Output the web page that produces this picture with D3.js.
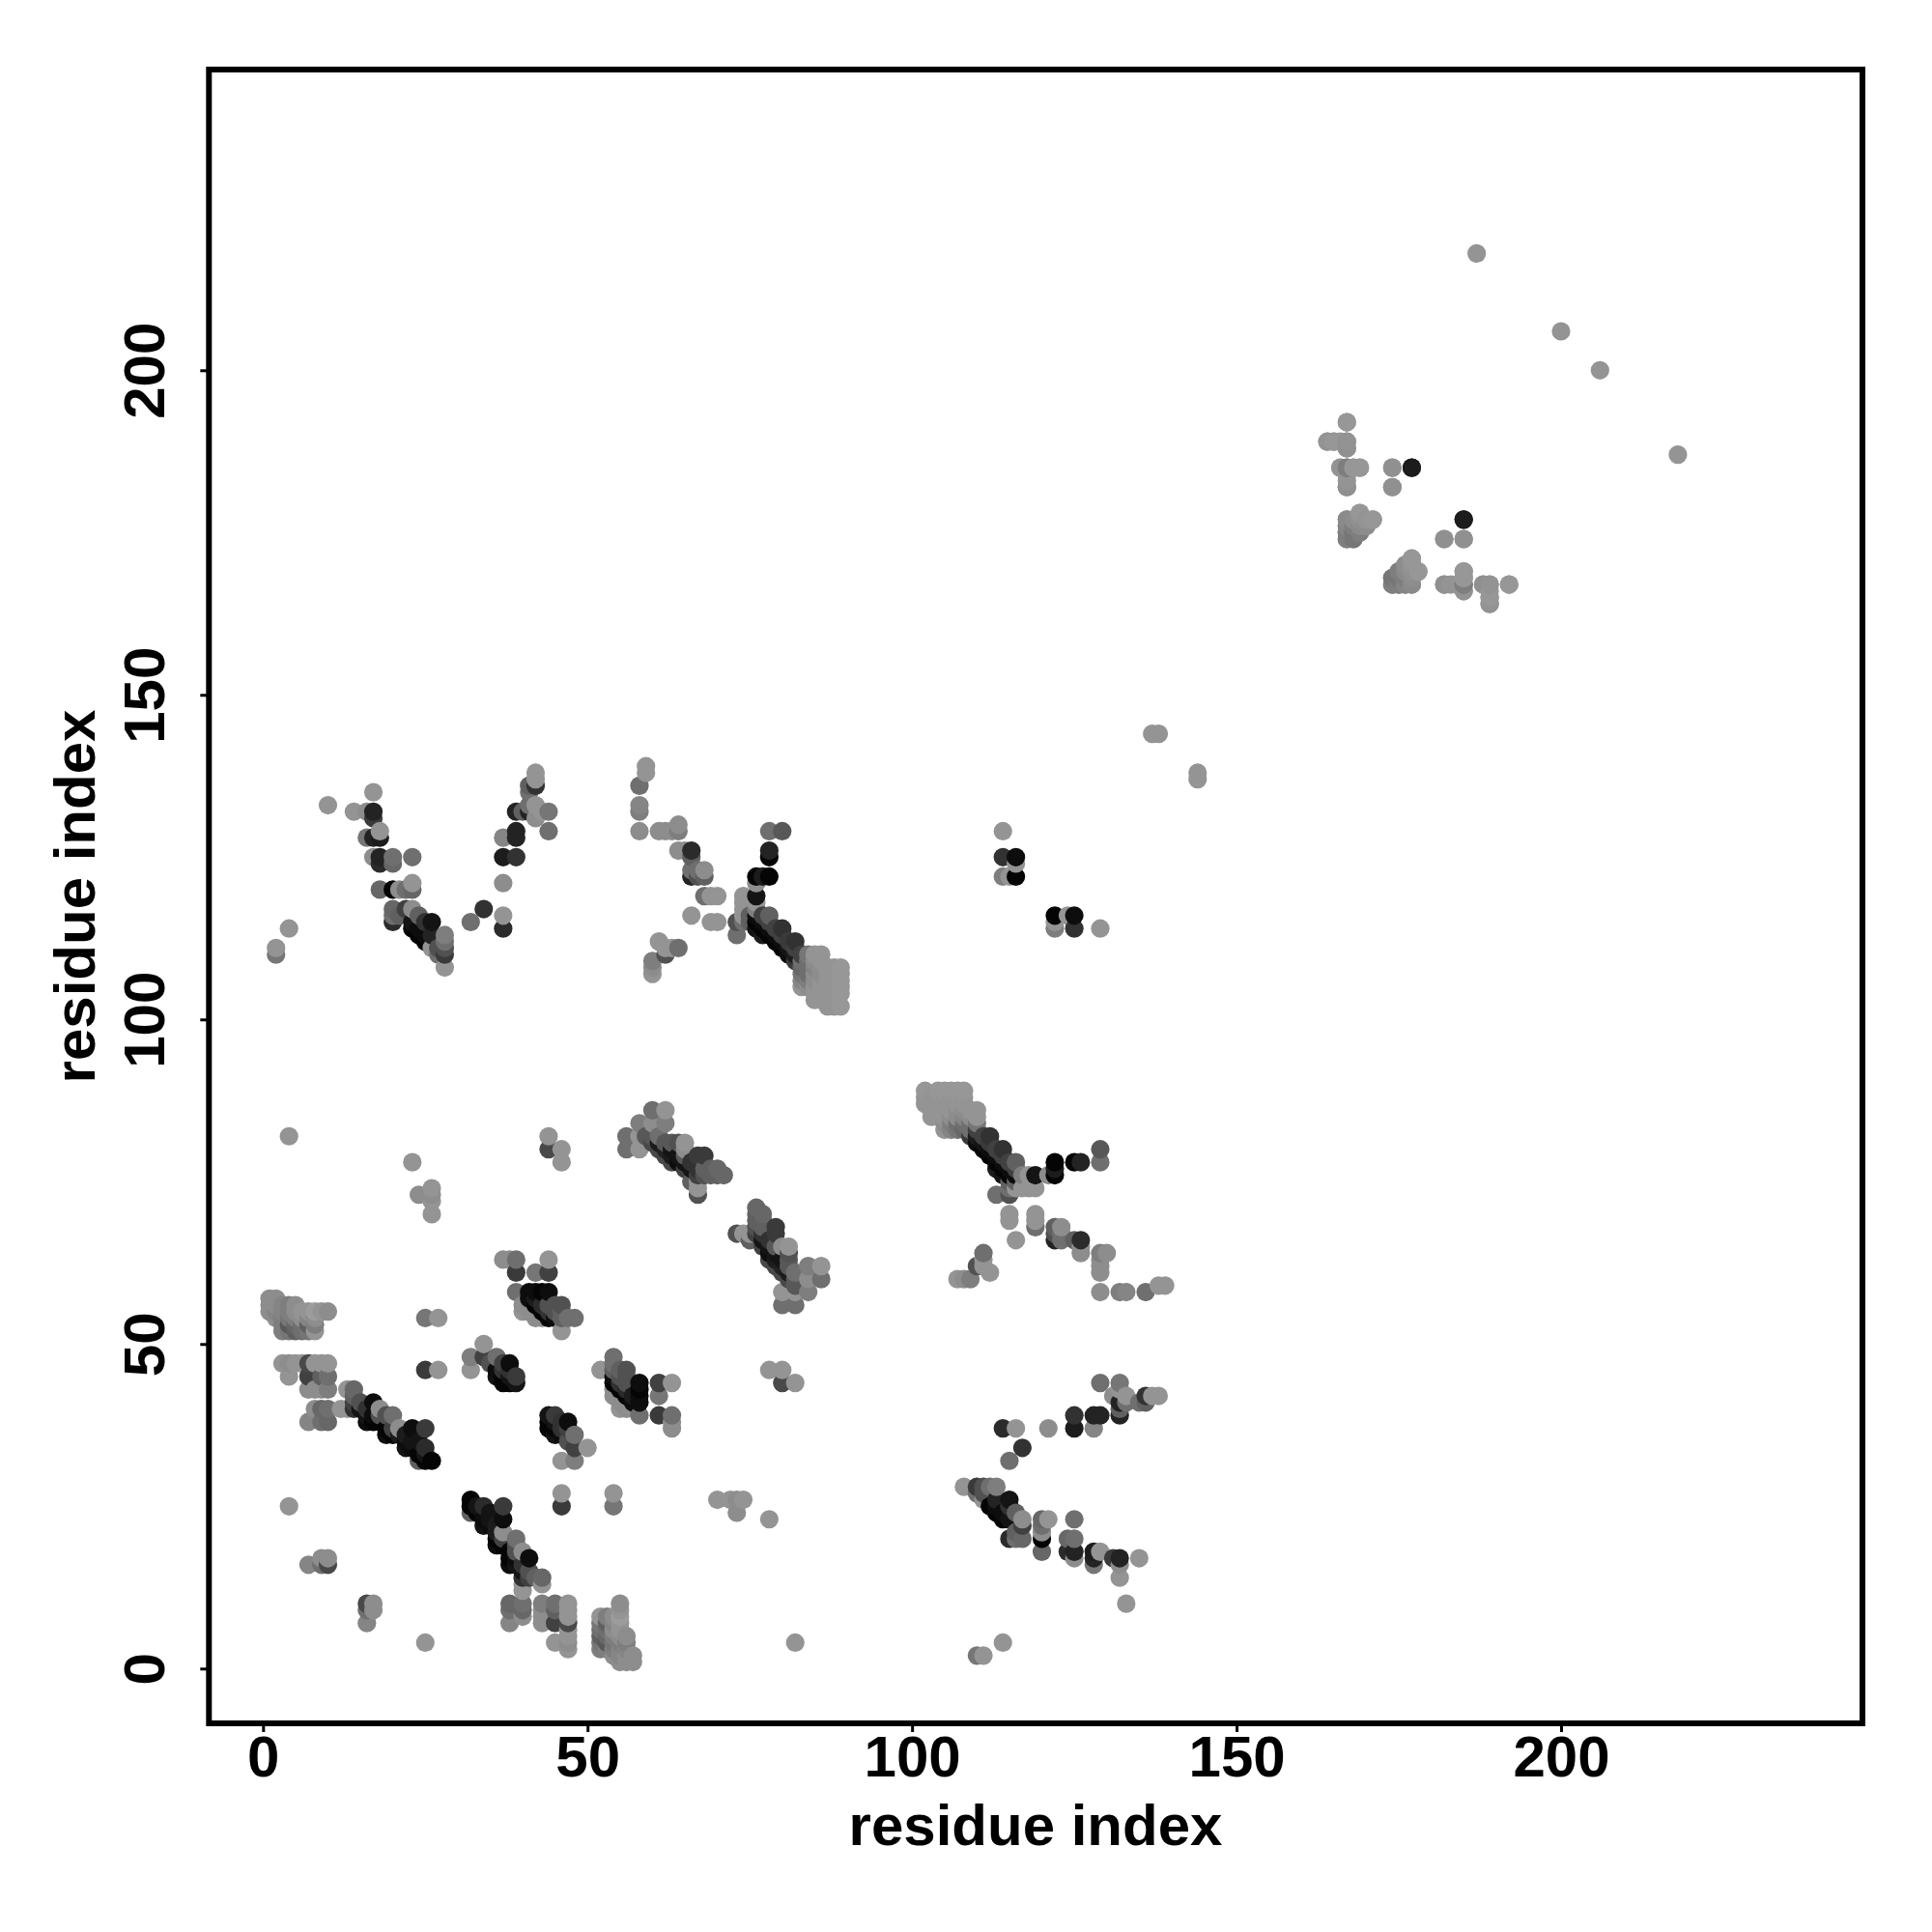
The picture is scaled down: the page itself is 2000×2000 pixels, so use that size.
<!DOCTYPE html>
<html><head><meta charset="utf-8">
<script src="https://cdn.jsdelivr.net/npm/d3@7/dist/d3.min.js"></script>
<style>html,body{margin:0;background:#fff}svg{display:block}</style></head>
<body><div id="chart"></div>
<script>
// Contacts as [residue i, residue j, strength]; the map is symmetric, each is shown at (i,j) and (j,i).
const blockA = [[1,57,.1],[2,57,.1],[1,56,.1],[2,56,.1],[3,56,.15],[4,56,.2],[5,56,.1],
[1,55,.1],[2,55,.15],[3,55,.15],[4,55,.2],[5,55,.1],[6,55,.05],[7,55,.05],[8,55,0],[9,55,.05],[10,55,.1],
[2,54,.1],[3,54,.2],[4,54,.25],[5,54,.2],[6,54,.1],[7,54,.15],[8,54,.1],
[3,53,.2],[4,53,.45],[5,53,.35],[6,53,.3],[7,53,.4],[8,53,.2],
[3,52,.2],[4,52,.25],[5,52,.4],[6,52,.3],[7,52,.25],[8,52,.05]];
const blockB = [[3,47,.05],[4,47,.1],[5,47,.05],[6,47,.05],[7,47,.55],[8,47,.05],[9,47,.05],[10,47,.05],
[4,45,.05],[7,45,.6],[9,45,.4],[10,45,.3],[7,43,.1],[8,43,.1],[9,43,.1],[10,43,.2],
[8,40,.1],[9,40,.35],[10,40,.3],[7,38,.15],[9,38,.3],[10,38,.35]];
const lineC = [[13,43,.05],[14,43,.35],[14,42,.4],[14,41,.6],[14,40,.7],[13,40,.05],[12,40,.05],[15,41,.5],[15,40,.9],[16,40,.7],[16,39,.9],[17,41,.95],[16,38,.95],[17,39,.95],[18,40,.1],[17,38,1],[18,38,1],[18,39,.5],[19,39,.5],[20,39,.3],[19,37,1],[19,36,.95],[20,37,.6],[20,36,1],[21,36,.85],[21,37,.1],[22,36,.85],[22,35,.95],[23,37,.95],[22,34,.9],[23,35,.9],[23,34,.95],[24,35,.9],[24,33,1],[25,37,.65],[25,34,.75],[25,33,.9],[24,32,.4],[25,32,1],[26,32,1]];
const clusterD = [[37,63,.1],[38,63,.1],[39,63,.3],[44,63,.05],[39,61,.65],[42,61,.25],[44,61,.6],[39,58,.3],[41,58,.95],[42,58,.95],[43,58,1],[44,58,.95],[40,56,.1],[40,55,.05],[41,57,.95],[41,55,.1],[42,57,.85],[42,56,1],[43,56,.75],[43,55,1],[43,54,.1],[44,56,.5],[44,55,.7],[44,54,1],[45,56,.5],[45,55,.5],[45,54,.95],[46,56,.5],[46,55,.4],[46,54,.4],[47,54,.3],[48,54,.3],[46,52,.05],[42,54,.1]];
const clusterE = [[34,50,.05],[32,48,.2],[34,48,.6],[36,48,.3],[35,47,.5],[37,47,.6],[38,47,.95],[32,46,.05],[36,46,.95],[37,46,.7],[38,46,.7],[36,45,.9],[37,45,1],[38,45,.9],[39,45,.65],[37,44,1],[38,44,1],[39,44,.9]];
const scattered = [[25,46,.65],[27,46,.05],[25,54,.25],[27,54,.05],[4,25,.05],[7,16,.15],[9,17,.1],[10,17,.1],[10,16,.55],[9,16,.3],
[26,70,.05],[26,72,.05],[24,73,.1],[26,73,.1],[26,74,.05],[23,78,.05],[4,82,.05],[44,82,.05],[44,80,.55],[46,80,.05],[46,78,.05],
[2,110,.25],[2,111,.05],[4,114,.05],[10,133,.05],[137,144,.05],[138,144,.05],[187,218,.05],[200,206,.05]];
const clusterF = [[56,82,.3],[56,80,.3],[58,84,.2],[58,82,.05],[58,80,.05],[60,86,.3],[62,86,.05],[60,84,.1],[62,84,.2],[59,82,.45],[60,82,.45],[61,82,.3],[60,81,.55],[61,81,.85],[61,80,.55],[62,81,.45],[62,80,.8],[63,81,.45],[64,81,.5],[65,81,.05],[65,80,.1],[62,79,.55],[63,80,.9],[63,79,.85],[63,78,.55],[64,79,.9],[65,79,.45],[64,78,.95],[65,78,.9],[66,78,.7],[67,79,.65],[68,79,.65],[65,77,.6],[66,77,.9],[67,77,.7],[68,77,.4],[69,77,.4],[70,77,.35],[71,76,.35],[70,76,.4],[69,76,.4],[67,76,.6],[68,76,.5],[66,75,.4],[67,75,.05],[67,74,.05],[67,73,.5]];
const clusterG = [[59,139,.05],[59,138,.05],[58,136,.3],[58,133,.15],[58,132,.2],[58,129,.1],[61,129,.1],[62,129,.1],[63,129,.1],[64,130,.1],[64,129,.2],[64,126,.1],[65,126,.1],[66,126,.75],[66,125,.4],[66,123,.3],[66,122,.8],[67,123,.3],[68,123,.1],[68,122,.4],[67,122,.5],[68,119,.3],[69,119,.05],[70,119,.05],[66,116,.05],[69,115,.05],[70,115,.05],
[73,115,.5],[73,113,.3],[74,119,.05],[74,118,.05],[74,117,.05],[74,116,.05],[74,115,.3],
[60,109,.2],[60,108,.1],[60,107,.05],[61,112,.05],[62,111,.05],[62,110,.5],[63,111,.05],[64,111,.3],
[76,122,1],[76,121,.1],[77,122,.85],[78,122,1],[76,119,.9],[76,118,.05],[76,117,.2],[78,126,.8],[78,125,1],[78,129,.3],[80,129,.45]];
const lineH = [[75,116,.4],[75,115,.4],[76,116,.95],[76,115,1],[76,114,.9],[77,116,.6],[78,116,.4],[77,115,.95],[77,114,1],[78,115,.6],[78,114,.95],[78,113,1],[77,113,.85],[79,114,.6],[79,113,.95],[79,112,1],[80,114,.7],[80,113,.6],[80,112,.95],[80,111,1],[81,112,.65],[81,111,.9],[81,110,.95],[82,112,.7],[82,111,.6],[82,110,.85],[82,109,.65],[83,110,.6]];
const blockI = [[83,109,.3],[83,108,.35],[83,107,.25],[83,106,.15],[83,105,.05],[84,110,.25],[84,109,.3],[84,108,.3],[84,107,.3],[84,106,.2],[84,105,.1],
[85,110,.05],[85,109,.1],[85,108,.15],[85,107,.1],[85,106,.1],[85,105,.05],[85,104,.05],[85,103,.05],
[86,110,.05],[86,109,.05],[86,108,.1],[86,107,.1],[86,106,.05],[86,105,.05],[86,104,.05],[86,103,.05],
[87,108,.05],[87,107,.05],[87,106,.05],[87,105,.05],[87,104,.05],[87,103,.05],[87,102,.05],
[88,108,.05],[88,107,.05],[88,106,.05],[88,105,.05],[88,104,.05],[88,103,.05],[88,102,.05],
[89,108,.03],[89,107,.03],[89,106,.03],[89,105,.03],[89,104,.03],[89,102,.03]];
const clusterJ = [[14,132,.05],[16,132,.1],[17,135,.05],[17,132,.8],[17,131,.65],[18,129,.05],[16,128,.25],[17,128,.8],[18,128,.85],[17,125,.1],[18,125,.8],[18,124,.75],[20,125,.3],[20,124,.35],[23,125,.3],[18,120,.35],[20,120,1],[21,120,.1],[22,120,.3],[23,121,.05],[23,120,.35],[20,117,.35],[20,116,.3],[20,115,.75],[21,116,.4],[22,117,.6],[23,117,.1],[24,116,.4],[23,115,.9],[23,114,1],[24,114,.95],[25,115,.7],[24,113,1],[25,113,.95],[25,112,1],[26,115,.9],[26,113,.8],[26,111,.05],[27,110,.3],[27,111,.5],[28,113,.2],[28,112,.3],[28,111,.5],[28,110,.65],[28,108,.05],
[32,115,.3],[34,117,.7],[37,116,.05],[37,114,.75],[37,121,.1],[37,125,.85],[39,125,.7],[37,128,.15],[39,129,.8],[39,128,.8],[39,132,.8],[40,132,.4],[41,132,.8],[42,133,.05],[41,133,.3],[42,131,.1],[41,136,.4],[42,136,.7],[41,135,.3],[42,137,.05],[42,138,.05],[43,132,.05],[44,132,.25],[44,129,.3]];
const clusterK = [[114,129,.05],[114,125,.7],[114,122,.2],[115,122,.05],[116,125,.95],[116,124,.05],[116,122,1]];
const clusterL = [[167,192,.05],[164,189,.03],[165,189,.03],[166,189,.03],[167,189,.08],[167,188,.08],[166,185,.03],[167,185,.25],[168,185,.05],[169,185,.03],[167,183,.05],[167,182,.08],[174,185,.1],[177,185,.85],[174,182,.08],[185,177,.85],[182,174,.08],[185,174,.08],
[167,174,.2],[167,175,.15],[167,176,.08],[167,177,.1],[168,174,.2],[168,175,.2],[168,176,.12],[169,175,.2],[169,176,.15],[169,177,.08],[169,178,.03],[170,176,.12],[170,177,.05],[171,177,.03],
[174,167,.2],[174,168,.25],[175,167,.2],[175,168,.25],[175,169,.2],[176,167,.15],[176,168,.2],[176,169,.12],[176,170,.1],[177,167,.12],[177,168,.1],[177,169,.08],[177,170,.05],[177,171,.03],[178,169,.03],
[182,167,.08],[184,167,.05],[185,169,.03],[185,168,.03],[185,167,.2],[185,166,.06],[188,167,.08],[189,167,.06],[189,165,.03],[189,164,.06],[192,167,.03]];

const tickValues = [0,50,100,150,200];
const xLabel = "residue index", yLabel = "residue index";

const groups = [blockA,blockB,lineC,clusterD,clusterE,scattered,clusterF,clusterG,lineH,blockI,clusterJ,clusterK,clusterL];
const points = groups.flat().flatMap(([i,j,s]) => [[i,j,s],[j,i,s]])
  .sort((a,b) => d3.ascending(a[0],b[0]) || d3.ascending(a[1],b[1]));

const W = 2000, H = 2000;
const L = 216.3, R = 1928, T = 72, B = 1784;
const x = d3.scaleLinear().domain([0,200]).range([272.3,1616]);
const y = d3.scaleLinear().domain([0,200]).range([1727.3,383.3]);
const grey = d3.scaleLinear().domain([0,1]).range(["#9c9c9c","#050505"]);
const font = "'Liberation Sans',Arial,sans-serif";

const svg = d3.select("#chart").append("svg").attr("width",W).attr("height",H).attr("viewBox",`0 0 ${W} ${H}`);
svg.append("rect").attr("width",W).attr("height",H).attr("fill","#fff");

svg.append("g").selectAll("circle").data(points).join("circle")
  .attr("cx",d=>x(d[0])).attr("cy",d=>y(d[1])).attr("r",9.6).attr("fill",d=>grey(d[2]));

const xAxis = svg.append("g").attr("transform",`translate(0,${B})`)
  .call(d3.axisBottom(x).tickValues(tickValues).tickSize(9).tickSizeOuter(0).tickFormat(d3.format("d")));
const yAxis = svg.append("g").attr("transform",`translate(${L},0)`)
  .call(d3.axisLeft(y).tickValues(tickValues).tickSize(9).tickSizeOuter(0).tickFormat(d3.format("d")));
[xAxis,yAxis].forEach(a=>{a.select(".domain").remove();a.selectAll("line").attr("stroke","#000").attr("stroke-width",3);});
xAxis.selectAll("text").attr("y",55).attr("dy",0).attr("font-family",font).attr("font-weight",700).attr("font-size",60).attr("text-anchor","middle").attr("fill","#000");
yAxis.selectAll("text").attr("x",0).attr("dy",0).attr("font-family",font).attr("font-weight",700).attr("font-size",60).attr("text-anchor","middle").attr("fill","#000")
  .attr("transform",`translate(${170-L},0) rotate(-90)`);

svg.append("rect").attr("x",L).attr("y",T).attr("width",R-L).attr("height",B-T)
  .attr("fill","none").attr("stroke","#000").attr("stroke-width",6);

svg.append("text").attr("x",1072).attr("y",1910).attr("text-anchor","middle")
  .attr("font-family",font).attr("font-weight",700).attr("font-size",60).text(xLabel);
svg.append("text").attr("transform","translate(98,928) rotate(-90)").attr("text-anchor","middle")
  .attr("font-family",font).attr("font-weight",700).attr("font-size",60).text(yLabel);
</script></body></html>
